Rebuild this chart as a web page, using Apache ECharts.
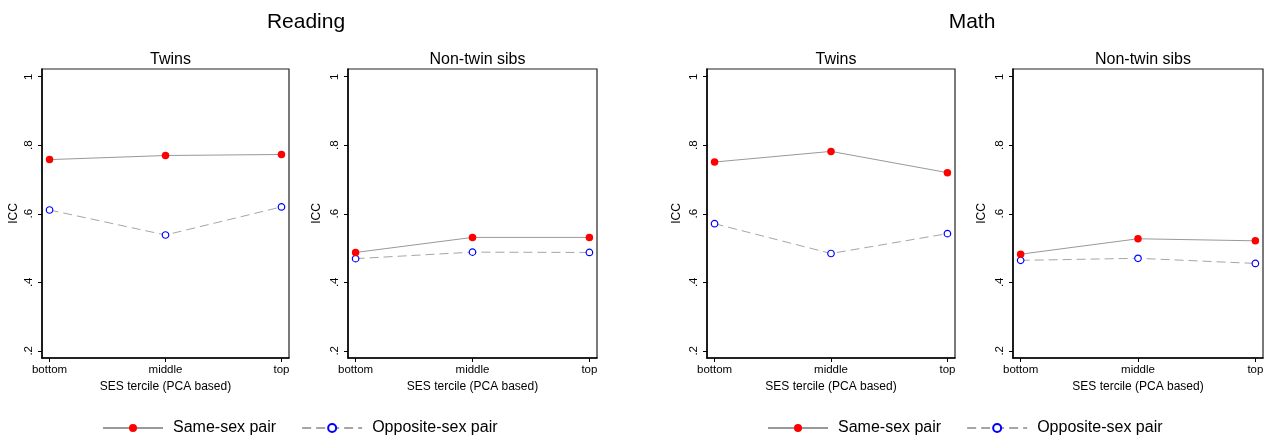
<!DOCTYPE html>
<html>
<head>
<meta charset="utf-8">
<script src="https://cdn.jsdelivr.net/npm/echarts@6/dist/echarts.min.js"></script>
<style>
  html, body { margin: 0; padding: 0; background: #fff; }
  #chart { width: 1273px; height: 438px; }
</style>
</head>
<body>
<div id="chart"></div>
<script>
// SES terciles on the x axis
const categories = ['bottom', 'middle', 'top'];
const yTicks = [0.2, 0.4, 0.6, 0.8, 1];
const yTickLabels = ['.2', '.4', '.6', '.8', '1'];

// Intraclass correlations by SES tercile
const readingTwinsSame = [0.758, 0.770, 0.773];
const readingTwinsOpp = [0.611, 0.538, 0.620];
const readingSibsSame = [0.487, 0.531, 0.531];
const readingSibsOpp = [0.469, 0.488, 0.487];
const mathTwinsSame = [0.751, 0.782, 0.720];
const mathTwinsOpp = [0.571, 0.484, 0.542];
const mathSibsSame = [0.482, 0.527, 0.521];
const mathSibsOpp = [0.464, 0.470, 0.455];

const SAME = 'Same-sex pair';
const OPP = 'Opposite-sex pair';
const FONT = "'Liberation Sans', Arial, sans-serif";

const panels = [
  { title: 'Twins', left: 42, width: 247, nameGap: 22, same: readingTwinsSame, opp: readingTwinsOpp },
  { title: 'Non-twin sibs', left: 348, width: 249, nameGap: 25, same: readingSibsSame, opp: readingSibsOpp },
  { title: 'Twins', left: 707, width: 248, nameGap: 24, same: mathTwinsSame, opp: mathTwinsOpp },
  { title: 'Non-twin sibs', left: 1013, width: 250, nameGap: 25, same: mathSibsSame, opp: mathSibsOpp }
];
const gridTop = 69, gridHeight = 289;

const toPoints = vals => categories.map((c, i) => [i, vals[i]]);

const titles = [
  { text: 'Reading', left: 301, top: 7, textAlign: 'center',
    textStyle: { fontFamily: FONT, fontSize: 21, fontWeight: 'normal', color: '#000' } },
  { text: 'Math', left: 967, top: 7, textAlign: 'center',
    textStyle: { fontFamily: FONT, fontSize: 21, fontWeight: 'normal', color: '#000' } }
];
const grids = [], xAxes = [], yAxes = [], series = [];

panels.forEach((p, k) => {
  titles.push({
    text: p.title, left: p.left + p.width / 2, top: 47, textAlign: 'center',
    textStyle: { fontFamily: FONT, fontSize: 16, fontWeight: 'normal', color: '#000' }
  });
  grids.push({
    left: p.left, top: gridTop, width: p.width, height: gridHeight,
    show: true, borderColor: '#222', borderWidth: 1.2, backgroundColor: '#fff'
  });
  xAxes.push({
    type: 'value', gridIndex: k, min: -0.065, max: 2.065,
    name: 'SES tercile (PCA based)', nameLocation: 'middle', nameGap: 21,
    nameTextStyle: { fontFamily: FONT, fontSize: 12, color: '#000' },
    axisLine: { show: true, onZero: false, lineStyle: { color: '#000', width: 1.5 } },
    axisTick: { show: true, customValues: [0, 1, 2], length: 4, lineStyle: { color: '#000' } },
    axisLabel: {
      customValues: [0, 1, 2], margin: 6,
      fontFamily: FONT, fontSize: 11.5, color: '#000',
      formatter: v => categories[Math.round(v)]
    },
    splitLine: { show: false }
  });
  yAxes.push({
    type: 'value', gridIndex: k, min: 0.179, max: 1.0225,
    name: 'ICC', nameLocation: 'middle', nameGap: p.nameGap, nameRotate: 90,
    nameTextStyle: { fontFamily: FONT, fontSize: 12, color: '#000' },
    axisLine: { show: true, onZero: false, lineStyle: { color: '#000', width: 1.5 } },
    axisTick: { show: true, customValues: yTicks, length: 4, lineStyle: { color: '#000' } },
    axisLabel: {
      customValues: yTicks, rotate: 90, margin: 7,
      fontFamily: FONT, fontSize: 11.5, color: '#000',
      formatter: v => yTickLabels[yTicks.findIndex(t => Math.abs(t - v) < 1e-6)]
    },
    splitLine: { show: false }
  });
  series.push({
    name: SAME, type: 'line', xAxisIndex: k, yAxisIndex: k,
    data: toPoints(p.same),
    symbol: 'circle', symbolSize: 7.5,
    itemStyle: { color: '#ff0000' },
    lineStyle: { color: '#999', width: 1, type: 'solid' },
    z: 3
  });
  series.push({
    name: OPP, type: 'line', xAxisIndex: k, yAxisIndex: k,
    data: toPoints(p.opp),
    symbol: 'circle', symbolSize: 6.5,
    itemStyle: { color: '#fff', borderColor: '#0000ff', borderWidth: 1.2 },
    lineStyle: { color: '#a6a6a6', width: 1, type: [9, 5] },
    z: 2
  });
});

const legendBase = {
  data: [SAME, OPP], top: 420, itemWidth: 60, itemHeight: 10, itemGap: 25,
  padding: 0, selectedMode: false,
  textStyle: { fontFamily: FONT, fontSize: 16, color: '#000', padding: [0, 0, 0, 5] }
};

const chart = echarts.init(document.getElementById('chart'), null, { renderer: 'canvas' });
chart.setOption({
  backgroundColor: '#fff',
  animation: false,
  title: titles,
  legend: [
    Object.assign({}, legendBase, { left: 102 }),
    Object.assign({}, legendBase, { left: 767 })
  ],
  grid: grids,
  xAxis: xAxes,
  yAxis: yAxes,
  series: series
});
</script>
</body>
</html>
